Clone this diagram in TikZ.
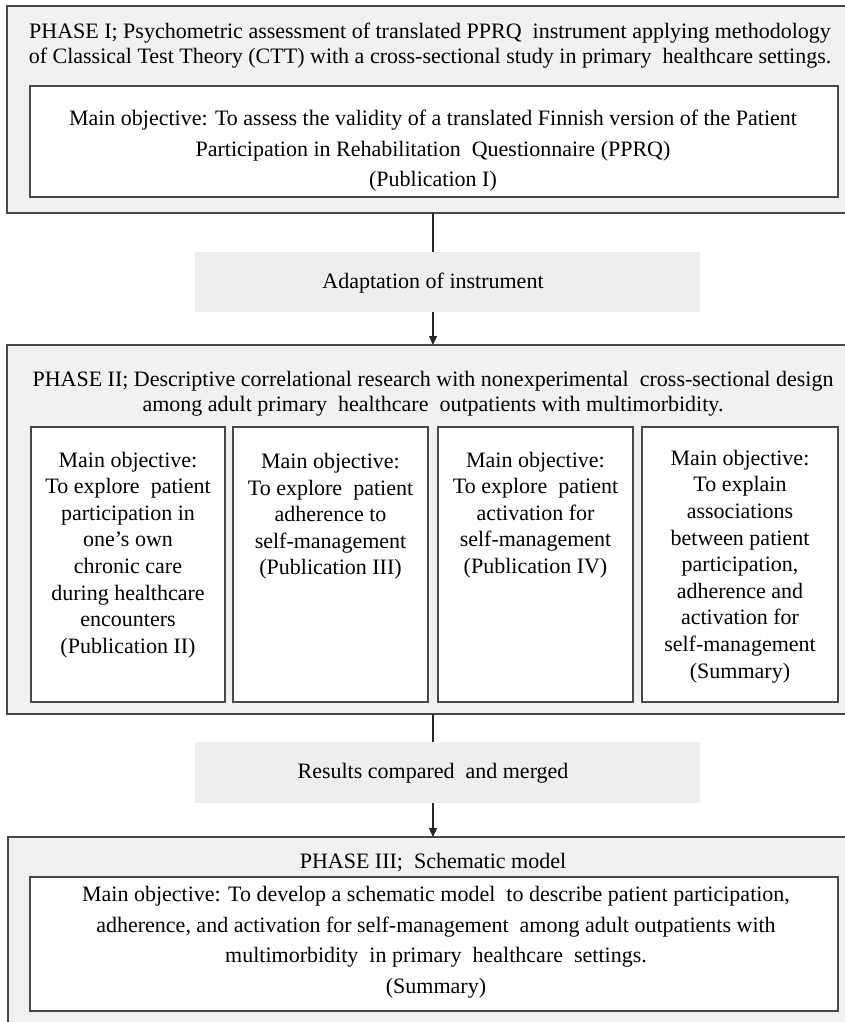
\documentclass[tikz,border=0pt]{standalone}
\usepackage{fontspec}
\setmainfont{Liberation Serif}
\usetikzlibrary{arrows.meta}
\definecolor{phasefill}{HTML}{F1F1F1}
\definecolor{bandfill}{HTML}{EEEEEE}
\definecolor{edgecol}{HTML}{484848}
\begin{document}
\begin{tikzpicture}[x=1pt,y=-1pt,
  phase/.style={draw=edgecol, line width=1.6pt, fill=phasefill, inner sep=0pt, outer sep=0pt, anchor=north west},
  objbox/.style={draw=edgecol, line width=1.6pt, fill=white, inner sep=0pt, outer sep=0pt, anchor=north west},
  band/.style={fill=bandfill, inner sep=0pt, outer sep=0pt, anchor=north west},
  ttl/.style={align=center, inner sep=0pt, font=\fontsize{22}{25}\selectfont},
  objtxt/.style={align=center, inner sep=0pt, font=\fontsize{22}{30.5}\selectfont},
  coltxt/.style={align=center, inner sep=0pt, font=\fontsize{22}{26.6}\selectfont},
  conn/.style={draw=black!85, line width=1.3pt},
  arr/.style={conn, -{Triangle[length=9pt,width=8pt]}}]
\useasboundingbox (0,0) rectangle (845,1022);
\clip (0,0) rectangle (845,1022);
\fill[white] (0,0) rectangle (845,1022);
\coordinate (ax) at (433,0);

% Phase I
\node[phase, minimum width=850pt, minimum height=207pt] (p1) at (7,6) {};
\node[ttl] (p1t) at (430,45.5) {PHASE I; Psychometric assessment of translated PPRQ\ \ instrument applying methodology\\of Classical Test Theory (CTT) with a cross-sectional study in primary\ \ healthcare settings.};
\node[objbox, minimum width=808pt, minimum height=111pt] (o1) at (30,86) {};
\node[objtxt] (o1t) at (433,151) {Main objective: To assess the validity of a translated Finnish version of the Patient\\Participation in Rehabilitation\ \ Questionnaire (PPRQ)\\(Publication I)};

% Band A
\node[band, minimum width=505pt, minimum height=60pt] (bA) at (195,252) {};
\node[ttl] (bAt) at (433,283) {Adaptation of instrument};

% Phase II
\node[phase, minimum width=850pt, minimum height=369pt] (p2) at (7,345) {};
\node[ttl] (p2t) at (433,393.5) {PHASE II; Descriptive correlational research with nonexperimental\ \ cross-sectional design\\among adult primary\ \ healthcare\ \ outpatients with multimorbidity.};
\node[objbox, minimum width=194pt, minimum height=275pt] (c1) at (31,427) {};
\node[objbox, minimum width=195pt, minimum height=275pt] (c2) at (233,427) {};
\node[objbox, minimum width=195pt, minimum height=275pt] (c3) at (438,427) {};
\node[objbox, minimum width=196pt, minimum height=275pt] (c4) at (642,427) {};
\node[coltxt] (c1t) at (128,555) {Main objective:\\To explore\ \ patient\\participation in\\one's own\\chronic care\\during healthcare\\encounters\\(Publication II)};
\node[coltxt] (c2t) at (330.5,516.5) {Main objective:\\To explore\ \ patient\\adherence to\\self-management\\(Publication III)};
\node[coltxt] (c3t) at (535.5,515) {Main objective:\\To explore\ \ patient\\activation for\\self-management\\(Publication IV)};
\node[coltxt] (c4t) at (740,566.5) {Main objective:\\To explain\\associations\\between patient\\participation,\\adherence and\\activation for\\self-management\\(Summary)};

% Band B
\node[band, minimum width=505pt, minimum height=61pt] (bB) at (195,742) {};
\node[ttl] (bBt) at (433,773) {Results compared\ \ and merged};

% Phase III
\node[phase, minimum width=850pt, minimum height=220pt] (p3) at (8,837) {};
\node[ttl] (p3t) at (433,863) {PHASE III;\ \ Schematic model};
\node[objbox, minimum width=808pt, minimum height=134pt] (o3) at (30,877) {};
\node[objtxt] (o3t) at (436,942) {Main objective: To develop a schematic model\ \ to describe patient participation,\\adherence, and activation for self-management\ \ among adult outpatients with\\multimorbidity\ \ in primary\ \ healthcare\ \ settings.\\(Summary)};

% connectors
\draw[conn] (p1.south -| ax) -- (bA.north -| ax);
\draw[arr] (bA.south -| ax) -- (p2.north -| ax);
\draw[conn] (p2.south -| ax) -- (bB.north -| ax);
\draw[arr] (bB.south -| ax) -- (p3.north -| ax);
\end{tikzpicture}
\end{document}
